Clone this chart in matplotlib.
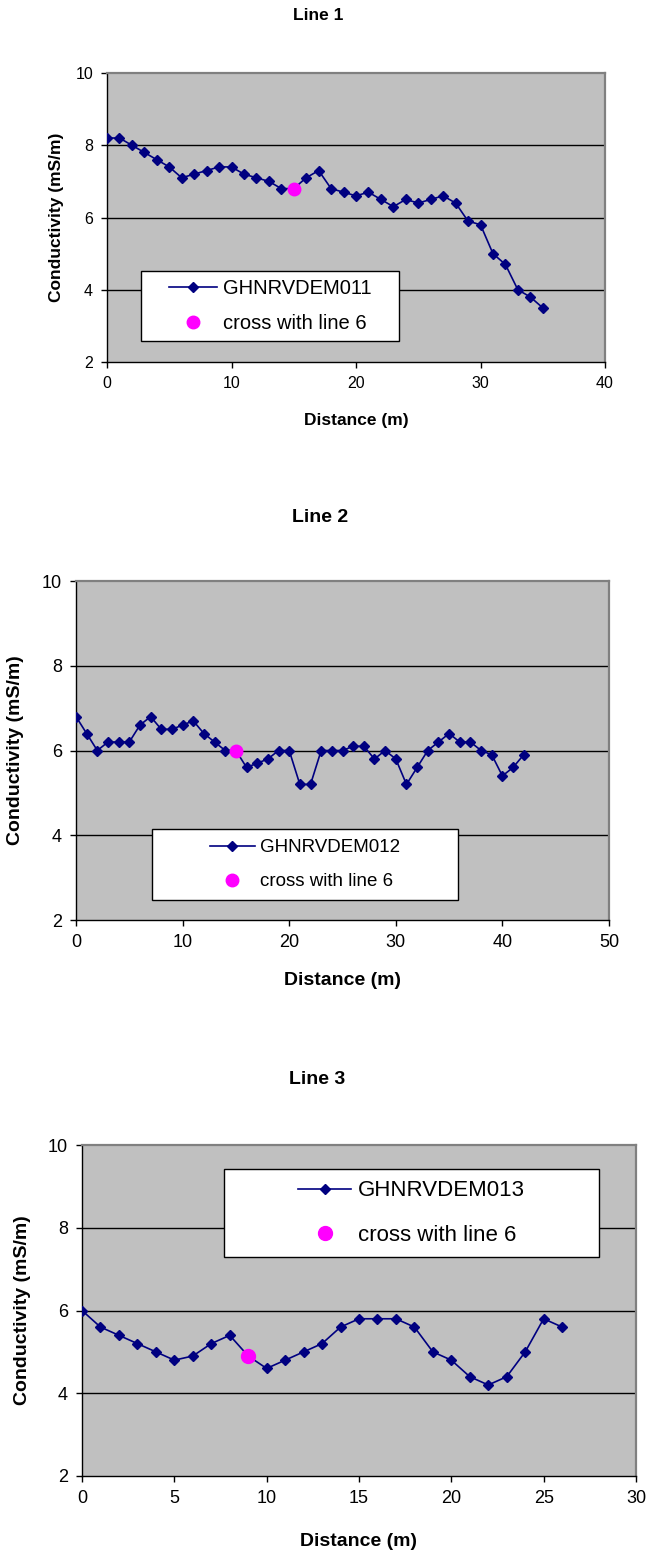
import matplotlib.pyplot as plt
import numpy as np
from matplotlib.patches import Rectangle

plt.rcParams['font.family'] = ['Liberation Sans', 'DejaVu Sans']

# Line 1 survey
dist1 = list(range(36))
cond1 = [8.2, 8.2, 8.0, 7.8, 7.6, 7.4, 7.1, 7.2, 7.3, 7.4, 7.4, 7.2, 7.1, 7.0, 6.8, 6.8,
         7.1, 7.3, 6.8, 6.7, 6.6, 6.7, 6.5, 6.3, 6.5, 6.4, 6.5, 6.6, 6.4, 5.9, 5.8, 5.0,
         4.7, 4.0, 3.8, 3.5]
cross1 = (15, 6.8)

# Line 2 survey
dist2 = list(range(43))
cond2 = [6.8, 6.4, 6.0, 6.2, 6.2, 6.2, 6.6, 6.8, 6.5, 6.5, 6.6, 6.7, 6.4, 6.2, 6.0, 6.0,
         5.6, 5.7, 5.8, 6.0, 6.0, 5.2, 5.2, 6.0, 6.0, 6.0, 6.1, 6.1, 5.8, 6.0, 5.8, 5.2,
         5.6, 6.0, 6.2, 6.4, 6.2, 6.2, 6.0, 5.9, 5.4, 5.6, 5.9]
cross2 = (15, 6.0)

# Line 3 survey
dist3 = list(range(27))
cond3 = [6.0, 5.6, 5.4, 5.2, 5.0, 4.8, 4.9, 5.2, 5.4, 4.9, 4.6, 4.8, 5.0, 5.2, 5.6, 5.8,
         5.8, 5.8, 5.6, 5.0, 4.8, 4.4, 4.2, 4.4, 5.0, 5.8, 5.6]
cross3 = (9, 4.9)

W, H = 653, 1553
fig = plt.figure(figsize=(W / 100, H / 100), dpi=100)


def px(x0, top, x1, bottom):
    return [x0 / W, 1 - bottom / H, (x1 - x0) / W, (bottom - top) / H]


def panel(box, dist, cond, cross, name, title, xmax, xstep, fs, title_xy, xlab_y,
          ylab_x, leg_box, leg_fs, leg_sp, dsize, csize):
    ax = fig.add_axes(px(*box))
    ax.set_facecolor('#c0c0c0')
    for y in (4, 6, 8):
        ax.axhline(y, color='black', lw=1.0, zorder=1)
    ax.plot(dist, cond, color='#000080', lw=1.2, marker='D', ms=dsize,
            mec='#000080', mfc='#000080', label=name, zorder=3)
    ax.plot([cross[0]], [cross[1]], ls='none', marker='o', ms=csize,
            color='#ff00ff', label='cross with line 6', zorder=4)
    ax.set_xlim(0, xmax)
    ax.set_ylim(2, 10)
    ax.set_xticks(np.arange(0, xmax + 1, xstep))
    ax.set_yticks([2, 4, 6, 8, 10])
    ax.tick_params(direction='out', length=4, width=1, labelsize=fs, pad=6)
    for s in ('left', 'bottom'):
        ax.spines[s].set_color('black')
        ax.spines[s].set_linewidth(1.0)
    for s in ('top', 'right'):
        ax.spines[s].set_color('#808080')
        ax.spines[s].set_linewidth(1.6)
    fig.text(title_xy[0] / W, 1 - title_xy[1] / H, title, ha='center', va='center',
             fontsize=fs + 1, fontweight='bold')
    fig.text((box[0] + box[2]) / 2 / W, 1 - xlab_y / H, 'Distance (m)', ha='center',
             va='center', fontsize=fs + 1, fontweight='bold')
    fig.text(ylab_x / W, 1 - (box[1] + box[3]) / 2 / H, 'Conductivity (mS/m)',
             ha='center', va='center', rotation=90, fontsize=fs + 1, fontweight='bold')

    # legend: white box drawn separately, entries centred inside it
    lx0, ly0, lx1, ly1 = leg_box
    frame = Rectangle((lx0 / W, 1 - ly1 / H), (lx1 - lx0) / W, (ly1 - ly0) / H,
                      transform=fig.transFigure, facecolor='white', edgecolor='black',
                      lw=1.0, zorder=5, clip_on=False)
    ax.add_patch(frame)
    leg = ax.legend(loc='center', bbox_to_anchor=((lx0 + lx1) / 2 / W, 1 - (ly0 + ly1) / 2 / H),
                    bbox_transform=fig.transFigure, fontsize=leg_fs, frameon=False,
                    handlelength=2.4, handletextpad=0.3, borderpad=0.0,
                    labelspacing=leg_sp, borderaxespad=0)
    leg.set_zorder(6)
    return ax


panel((107, 73, 605, 362), dist1, cond1, cross1, 'GHNRVDEM011', 'Line 1', 40, 10, 11.5,
      (318, 15), 421, 57, (141, 271, 399, 341), 14.5, 0.75, 5.2, 9)
panel((76, 581, 609, 920), dist2, cond2, cross2, 'GHNRVDEM012', 'Line 2', 50, 10, 13,
      (320, 517), 981, 16, (152, 829, 458, 900), 13.5, 0.9, 5.2, 9)
panel((82, 1145, 636, 1476), dist3, cond3, cross3, 'GHNRVDEM013', 'Line 3', 30, 5, 13,
      (317, 1079), 1542, 23, (224, 1169, 599, 1257), 16, 1.05, 5.2, 10)

fig.savefig('out.png', dpi=100)
